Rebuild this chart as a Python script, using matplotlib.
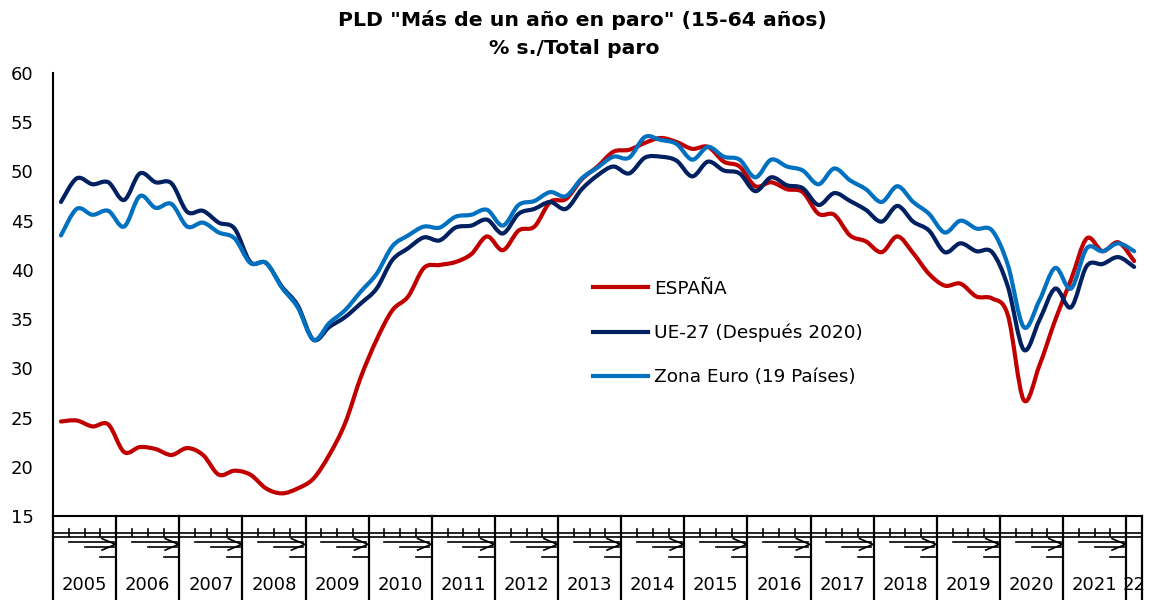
import matplotlib.pyplot as plt
from matplotlib.path import Path
from matplotlib.patches import PathPatch
from matplotlib.transforms import blended_transform_factory

# quarterly data 2005Q1 - 2022Q1 (% of total unemployed, more than a year in unemployment)
years = ["2005", "2006", "2007", "2008", "2009", "2010", "2011", "2012", "2013",
         "2014", "2015", "2016", "2017", "2018", "2019", "2020", "2021", "22"]

espana = [24.6, 24.7, 24.1, 24.3, 21.5, 22.0, 21.8, 21.2,
          21.9, 21.2, 19.2, 19.6, 19.2, 17.8, 17.3, 17.8,
          18.8, 21.2, 24.4, 29.1, 32.9, 35.9, 37.3, 40.2,
          40.5, 40.8, 41.6, 43.4, 42.0, 44.0, 44.4, 46.9,
          47.2, 49.2, 50.5, 52.0, 52.2, 52.9, 53.4, 53.0,
          52.3, 52.5, 51.0, 50.5, 48.5, 48.9, 48.2, 47.9,
          45.7, 45.6, 43.5, 42.9, 41.8, 43.4, 41.7, 39.6,
          38.4, 38.6, 37.3, 37.1, 35.4, 26.8, 30.3, 34.9,
          39.0, 43.2, 41.9, 42.8, 40.9]

ue27 = [46.9, 49.3, 48.7, 48.9, 47.1, 49.8, 48.9, 48.8,
        45.9, 46.0, 44.8, 44.2, 40.8, 40.7, 38.3, 36.4,
        32.9, 34.2, 35.2, 36.6, 38.1, 41.0, 42.2, 43.3,
        43.0, 44.3, 44.5, 45.1, 43.7, 45.7, 46.2, 46.9,
        46.2, 48.2, 49.6, 50.5, 49.8, 51.4, 51.5, 51.1,
        49.5, 51.0, 50.1, 49.8, 48.0, 49.4, 48.6, 48.3,
        46.6, 47.8, 47.0, 46.1, 44.9, 46.5, 44.9, 44.0,
        41.8, 42.7, 41.9, 41.8, 38.3, 31.9, 34.9, 38.1,
        36.2, 40.4, 40.6, 41.3, 40.3]

zona_euro = [43.5, 46.2, 45.6, 46.0, 44.4, 47.5, 46.3, 46.7,
             44.4, 44.8, 43.8, 43.2, 40.7, 40.7, 38.2, 36.2,
             32.9, 34.6, 35.9, 37.8, 39.6, 42.4, 43.5, 44.4,
             44.3, 45.4, 45.6, 46.1, 44.5, 46.6, 47.0, 47.9,
             47.5, 49.3, 50.4, 51.5, 51.4, 53.5, 53.2, 52.8,
             51.2, 52.5, 51.5, 51.2, 49.4, 51.2, 50.5, 50.1,
             48.7, 50.3, 49.1, 48.2, 46.9, 48.5, 46.9, 45.7,
             43.8, 45.0, 44.2, 44.0, 40.5, 34.2, 36.9, 40.2,
             38.1, 42.2, 41.9, 42.7, 41.9]

n = len(espana)
quarters = list(range(n))


def smooth_path(xs, ys):
    # Excel-like "smoothed line": cubic bezier through every data point
    verts = [(xs[0], ys[0])]
    codes = [Path.MOVETO]
    last = len(xs) - 1
    for i in range(last):
        a, b = max(i - 1, 0), min(i + 2, last)
        c1 = (xs[i] + (xs[i + 1] - xs[a]) / 6, ys[i] + (ys[i + 1] - ys[a]) / 6)
        c2 = (xs[i + 1] - (xs[b] - xs[i]) / 6, ys[i + 1] - (ys[b] - ys[i]) / 6)
        verts += [c1, c2, (xs[i + 1], ys[i + 1])]
        codes += [Path.CURVE4] * 3
    return Path(verts, codes)


fig = plt.figure(figsize=(11.51, 6), dpi=100)
ax = fig.add_axes([0.0461, 0.14, 0.9461, 0.7383])

series = [(espana, '#C00000', 'ESPAÑA'),
          (ue27, '#002060', 'UE-27 (Después 2020)'),
          (zona_euro, '#0070C0', 'Zona Euro (19 Países)')]
for vals, color, label in series:
    ax.add_patch(PathPatch(smooth_path(quarters, vals), facecolor='none', edgecolor=color,
                           lw=3, capstyle='round', joinstyle='round'))
    ax.plot([], [], color=color, lw=3, label=label)

ax.set_xlim(-0.5, n - 0.5)
ax.set_ylim(15, 60)
ax.set_yticks(range(15, 61, 5))
ax.set_xticks([])
ax.tick_params(axis='y', length=0, pad=14, labelsize=13)
for s in ['top', 'right']:
    ax.spines[s].set_visible(False)
for s in ['left', 'bottom']:
    ax.spines[s].set_linewidth(1.5)
    ax.spines[s].set_color('black')

# category axis: year boxes with the (garbled) quarter marks
trans = blended_transform_factory(ax.transData, ax.transAxes)
bottom = -0.19
deco = dict(transform=trans, clip_on=False, color='black')
for k, yr in enumerate(years):
    start = 4 * k - 0.5
    end = min(start + 4, n - 0.5)
    ax.plot([start, start], [0, bottom], lw=1.6, **deco)
    ax.plot([start, end], [-0.038, -0.038], lw=1.2, **deco)
    ax.plot([start, end], [-0.048, -0.048], lw=1.2, **deco)
    if end - start == 4:
        for q in (1, 2, 3):
            ax.plot([start + q, start + q], [-0.030, -0.045], lw=1.2, **deco)
        ax.plot([start + 1, end - 0.15], [-0.059, -0.059], lw=1.2, **deco)
        ax.plot([start + 2, end - 0.15], [-0.069, -0.069], lw=1.2, **deco)
        ax.plot([end - 0.9, end - 0.05, end - 0.9], [-0.051, -0.064, -0.077], lw=1.2, **deco)
        ax.plot([start + 3, end], [-0.092, -0.092], lw=1.2, **deco)
    ax.text((start + end) / 2, -0.156, yr, transform=trans, ha='center', va='center', fontsize=13)
ax.plot([n - 0.5, n - 0.5], [0, bottom], lw=1.6, **deco)

ax.legend(loc='center left', bbox_to_anchor=(593 / 1151, 1 - 333 / 600),
          bbox_transform=fig.transFigure, frameon=False, fontsize=13.3,
          handlelength=3.0, handletextpad=0.3, labelspacing=1.4,
          borderpad=0, borderaxespad=0)

fig.text(0.506, 0.966, 'PLD "Más de un año en paro" (15-64 años)', ha='center', va='center',
         fontsize=14.7, fontweight='bold')
fig.text(0.499, 0.92, '% s./Total paro', ha='center', va='center',
         fontsize=14.7, fontweight='bold')

fig.savefig('out.png', dpi=100)
